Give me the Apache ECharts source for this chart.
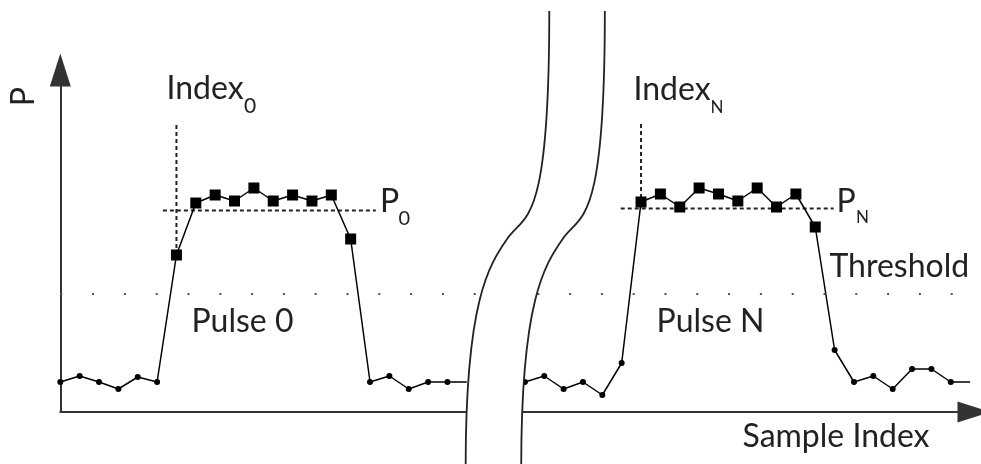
<!DOCTYPE html>
<html><head><meta charset="utf-8">
<script src="https://cdn.jsdelivr.net/npm/echarts@6/dist/echarts.min.js"></script>
<style>html,body{margin:0;padding:0;background:#fff}#c{width:981px;height:464px}</style>
</head><body><div id="c"></div>
<script>
// ---- data (sample index, power P in arbitrary units) ----
const pulse0Index = [0,1,2,3,4,5,6,7,8,9,10,11,12,13,14,15,16,17,18,19,20,21];
const pulse0Power = [1.5,1.8,1.5,1.15,1.75,1.5,7.85,10.45,10.85,10.55,11.2,10.55,10.85,10.55,10.85,8.65,1.5,1.8,1.15,1.5,1.5,1.5];
const pulseNIndex = [24,25,26,27,28,29,30,31,32,33,34,35,36,37,38,39,40,41,42,43,44,45,46,47];
const pulseNPower = [1.5,1.8,1.15,1.5,0.85,2.45,10.5,10.9,10.25,11.2,10.9,10.55,11.2,10.25,10.9,9.25,3.1,1.5,1.8,1.15,2.15,2.15,1.5,1.5];
const thresholdP = 5.9;
const p0Level = 10.07, p0From = 5.3, p0To = 16.3;
const pNLevel = 10.18, pNFrom = 28.95, pNTo = 39.95;
const index0 = 6, index0Top = 14.35, index0Bottom = 7.85;
const indexN = 30, indexNTop = 14.4, indexNBottom = 10.5;
const axisTexts = {x: 'Sample Index', y: 'P'};

const pair = (xs, ys) => xs.map((x, i) => [x, ys[i]]);
const ink = '#222';
const font = 'Lato';

const chart = echarts.init(document.getElementById('c'), null, {renderer: 'canvas'});

function traceSeries(xs, ys, extra) {
  const last = xs.length - 1;
  return Object.assign({
    type: 'line',
    data: pair(xs, ys),
    z: 4,
    silent: true,
    animation: false,
    lineStyle: {color: '#000', width: 1.5},
    itemStyle: {color: '#000'},
    showSymbol: true,
    showAllSymbol: true,
    symbol: (v, p) => p.dataIndex === last && extra.openEnd ? 'none' : (v[1] > thresholdP ? 'rect' : 'circle'),
    symbolSize: (v) => v[1] > thresholdP ? 11 : 6
  }, extra.opt || {});
}

function dashed(data) {
  return {
    type: 'line', data, z: 3, silent: true, symbol: 'none', animation: false,
    lineStyle: {color: ink, width: 2, type: [4, 3]}
  };
}

// break mark (two S curves with white band), defined in data units
const breakCurve = [[25.26, 20.05], [25.26, 9.1], [24.01, 9.95], [23.08, 8.65], [22.15, 7.35], [20.94, 5.6], [20.94, -2.7]];
const breakWidth = 2.87;

const option = {
  animation: false,
  backgroundColor: '#fff',
  grid: {left: 60.3, right: 7, top: 70, bottom: 52},
  xAxis: {
    type: 'value', min: 0, max: 47.2,
    axisLine: {show: true, onZero: false, symbol: ['none', 'triangle'], symbolSize: [21, 33], lineStyle: {color: '#333', width: 2}},
    axisTick: {show: false}, axisLabel: {show: false}, splitLine: {show: false}
  },
  yAxis: {
    type: 'value', min: 0, max: 17.1,
    axisLine: {show: true, onZero: false, symbol: ['none', 'triangle'], symbolSize: [21, 33], lineStyle: {color: '#333', width: 2}},
    axisTick: {show: false}, axisLabel: {show: false}, splitLine: {show: false}
  },
  series: [
    traceSeries(pulse0Index, pulse0Power, {openEnd: true, opt: {
      markLine: {
        silent: true, symbol: 'none', animation: false,
        label: {show: false},
        lineStyle: {color: '#555', width: 2, type: [2, 29.8], cap: 'butt'},
        data: [{yAxis: thresholdP}]
      }
    }}),
    traceSeries(pulseNIndex, pulseNPower, {openEnd: true}),
    dashed([[p0From, p0Level], [p0To, p0Level]]),
    dashed([[pNFrom, pNLevel], [pNTo, pNLevel]]),
    dashed([[index0, index0Top], [index0, index0Bottom]]),
    dashed([[indexN, indexNTop], [indexN, indexNBottom]]),
    {
      type: 'custom', z: 10, silent: true, clip: false, animation: false,
      data: [[breakCurve[3][0], breakCurve[3][1]]],
      renderItem: function (params, api) {
        const L = breakCurve.map(p => api.coord([p[0], p[1]]));
        const R = breakCurve.map(p => api.coord([p[0] + breakWidth, p[1]]));
        const s = q => q[0].toFixed(2) + ' ' + q[1].toFixed(2);
        const curve = P => 'M' + s(P[0]) + ' C' + s(P[1]) + ' ' + s(P[2]) + ' ' + s(P[3]) + ' C' + s(P[4]) + ' ' + s(P[5]) + ' ' + s(P[6]);
        const fill = curve(L) + ' L' + s(R[6]) + ' C' + s(R[5]) + ' ' + s(R[4]) + ' ' + s(R[3]) + ' C' + s(R[2]) + ' ' + s(R[1]) + ' ' + s(R[0]) + ' Z';
        return {
          type: 'group',
          children: [
            {type: 'path', shape: {pathData: fill}, style: {fill: '#fff', stroke: null}},
            {type: 'path', shape: {pathData: curve(L)}, style: {fill: null, stroke: ink, lineWidth: 1.8}},
            {type: 'path', shape: {pathData: curve(R)}, style: {fill: null, stroke: ink, lineWidth: 1.8}}
          ]
        };
      }
    }
  ],
  graphic: []
};

function txt(text, x, y, size, extra) {
  return Object.assign({
    type: 'text', x, y, z: 20, silent: true,
    style: {text, fill: ink, font: size + 'px ' + font, textAlign: 'left', textVerticalAlign: 'middle'}
  }, extra || {});
}
option.graphic = [
  txt('Index', 166.5, 89, 32),
  txt('0', 244, 106.5, 21),
  txt('Index', 633.5, 89.7, 32),
  txt('N', 710.5, 107.8, 17),
  txt('P', 380, 201.4, 32),
  txt('0', 398.5, 218.5, 20),
  txt('P', 836.6, 201.4, 32),
  txt('N', 856, 217.8, 17),
  txt('Threshold', 829.5, 266.4, 32),
  txt('Pulse 0', 191.5, 322, 32),
  txt('Pulse N', 656.6, 322, 32),
  txt(axisTexts.x, 742.5, 436.4, 32),
  {type: 'text', x: 23.3, y: 96.7, rotation: Math.PI / 2, z: 20, silent: true,
   style: {text: axisTexts.y, fill: ink, font: '32px ' + font, textAlign: 'center', textVerticalAlign: 'middle'}}
];

chart.setOption(option);
</script>
</body></html>
